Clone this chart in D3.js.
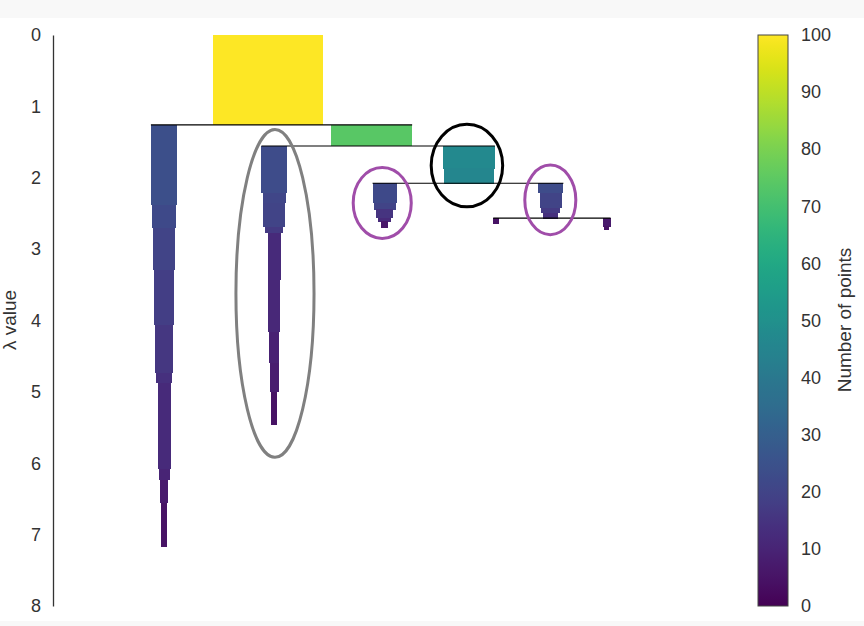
<!DOCTYPE html>
<html>
<head>
<meta charset="utf-8">
<script src="https://cdn.jsdelivr.net/npm/d3@7"></script>
<style>
  html, body { margin: 0; padding: 0; background: #ffffff; }
  svg { display: block; font-family: "Liberation Sans", Arial, sans-serif; }
</style>
</head>
<body>
<svg id="chart" width="864" height="626"></svg>
<script>
// ---------------- DATA ----------------
// Condensed-tree clusters: layout centre (in point units) of each cluster
const clusterIds    = ["root", "A", "G", "B", "H", "C", "D", "E", "F"];
const clusterCenter = [195, 101, 289.5, 201, 378.2, 301.5, 452.5, 402.7, 503.4];

// Segments: cluster, lambda start, lambda end, number of points
const segCluster = ["root",
  "A","A","A","A","A","A","A","A","A","A",
  "G",
  "B","B","B","B","B","B","B","B","B",
  "H","H",
  "C","C","C","C","C",
  "D","D","D","D",
  "E",
  "F","F"];
const segLambdaStart = [0,
  1.26, 2.38, 2.70, 3.29, 4.06, 4.73, 4.87, 6.08, 6.23, 6.55,
  1.26,
  1.555, 2.21, 2.35, 2.69, 2.77, 3.43, 4.16, 4.59, 5.0,
  1.555, 1.87,
  2.077, 2.35, 2.44, 2.56, 2.61,
  2.077, 2.21, 2.42, 2.49,
  2.567,
  2.567, 2.68];
const segLambdaEnd = [1.26,
  2.38, 2.70, 3.29, 4.06, 4.73, 4.87, 6.08, 6.23, 6.55, 7.16,
  1.555,
  2.21, 2.35, 2.69, 2.77, 3.43, 4.16, 4.59, 5.0, 5.46,
  1.87, 2.077,
  2.35, 2.44, 2.56, 2.61, 2.70,
  2.21, 2.42, 2.49, 2.567,
  2.64,
  2.68, 2.73];
const segPoints = [100,
  24, 22, 20, 18, 16, 14, 12, 10, 7, 5,
  74,
  23, 21, 20, 17, 12, 11, 9, 8, 5,
  47, 46,
  22, 20, 15, 12, 6,
  23, 20, 17, 14,
  5,
  7, 5];

// Splits: lambda of split, left child, right child
const splitLambda = [1.26, 1.555, 2.077, 2.567];
const splitLeft   = ["A", "B", "C", "E"];
const splitRight  = ["G", "H", "D", "F"];

// Annotation ellipses (centre x in point units, centre lambda, radii)
const ellipseCx    = [201.8, 376.3, 299.3, 452.1];
const ellipseCy    = [3.62, 1.83, 2.353, 2.31];
const ellipseRx    = [35.5, 32.5, 26.4, 23.2];
const ellipseRy    = [2.297, 0.578, 0.497, 0.487];
const ellipseColor = ["#808080", "#000000", "#a04da9", "#a04da9"];

const yTicks = [0, 1, 2, 3, 4, 5, 6, 7, 8];
const cbarTicks = [0, 10, 20, 30, 40, 50, 60, 70, 80, 90, 100];

// ---------------- SCALES ----------------
const svg = d3.select("#chart");
const W = 864, H = 626;

// light strips at top / bottom of the figure
svg.append("rect").attr("x", 0).attr("y", 0).attr("width", W).attr("height", 18).attr("fill", "#f8f8f8");
svg.append("rect").attr("x", 0).attr("y", 621).attr("width", W).attr("height", 5).attr("fill", "#f8f8f8");

const x = d3.scaleLinear().domain([0, 600]).range([53, 713]);
const y = d3.scaleLinear().domain([0, 8]).range([35, 606]);
const color = d3.scaleSequential(d3.interpolateViridis).domain([0, 100]);
const pxPerPoint = x(1) - x(0);

const centerOf = id => clusterCenter[clusterIds.indexOf(id)];
const firstWidth = id => segPoints[segCluster.indexOf(id)];

// ---------------- BARS ----------------
const segIdx = d3.range(segCluster.length);
svg.append("g")
  .attr("shape-rendering", "crispEdges")
  .selectAll("rect")
  .data(segIdx)
  .join("rect")
  .attr("x", i => x(centerOf(segCluster[i])) - segPoints[i] * pxPerPoint / 2)
  .attr("width", i => segPoints[i] * pxPerPoint)
  .attr("y", i => y(segLambdaStart[i]))
  .attr("height", i => y(segLambdaEnd[i]) - y(segLambdaStart[i]) + 0.5)
  .attr("fill", i => color(segPoints[i]));

// ---------------- SPLIT LINES ----------------
svg.append("g").selectAll("line")
  .data(d3.range(splitLambda.length))
  .join("line")
  .attr("x1", i => x(centerOf(splitLeft[i])) - firstWidth(splitLeft[i]) * pxPerPoint / 2)
  .attr("x2", i => x(centerOf(splitRight[i])) + firstWidth(splitRight[i]) * pxPerPoint / 2)
  .attr("y1", i => y(splitLambda[i]))
  .attr("y2", i => y(splitLambda[i]))
  .attr("stroke", "#000")
  .attr("stroke-width", 1.2);

// ---------------- ELLIPSES ----------------
svg.append("g").selectAll("ellipse")
  .data(d3.range(ellipseCx.length))
  .join("ellipse")
  .attr("cx", i => x(ellipseCx[i]))
  .attr("cy", i => y(ellipseCy[i]))
  .attr("rx", i => x(ellipseRx[i]) - x(0))
  .attr("ry", i => y(ellipseRy[i]) - y(0))
  .attr("fill", "none")
  .attr("stroke", i => ellipseColor[i])
  .attr("stroke-width", 3);

// ---------------- Y AXIS ----------------
const yAxis = d3.axisLeft(y).tickValues(yTicks).tickSize(0).tickPadding(12).tickFormat(d3.format("d"));
const gy = svg.append("g").attr("transform", "translate(53,0)").call(yAxis);
gy.select(".domain").attr("stroke", "#333").attr("stroke-width", 1.3);
gy.selectAll("text").attr("font-size", 18).attr("fill", "#333")
  .attr("font-family", "'Liberation Sans', Arial, sans-serif");

svg.append("text")
  .attr("transform", "translate(16,320) rotate(-90)")
  .attr("text-anchor", "middle")
  .attr("font-size", 19)
  .attr("fill", "#333")
  .text("λ value");

// ---------------- COLORBAR ----------------
const cbX = 758, cbW = 30;
const cy = d3.scaleLinear().domain([0, 100]).range([606, 35]);
const defs = svg.append("defs");
const grad = defs.append("linearGradient").attr("id", "viridisGrad")
  .attr("x1", "0").attr("y1", "1").attr("x2", "0").attr("y2", "0");
d3.range(0, 1.0001, 0.02).forEach(t => {
  grad.append("stop").attr("offset", t).attr("stop-color", d3.interpolateViridis(t));
});
svg.append("rect")
  .attr("x", cbX).attr("y", cy(100))
  .attr("width", cbW).attr("height", cy(0) - cy(100))
  .attr("fill", "url(#viridisGrad)")
  .attr("stroke", "#444").attr("stroke-width", 1);

const cAxis = d3.axisRight(cy).tickValues(cbarTicks).tickSize(0).tickPadding(13).tickFormat(d3.format("d"));
const gc = svg.append("g").attr("transform", `translate(${cbX + cbW},0)`).call(cAxis);
gc.select(".domain").remove();
gc.selectAll("text").attr("font-size", 18).attr("fill", "#333")
  .attr("font-family", "'Liberation Sans', Arial, sans-serif");

svg.append("text")
  .attr("transform", "translate(851,320) rotate(-90)")
  .attr("text-anchor", "middle")
  .attr("font-size", 19)
  .attr("fill", "#333")
  .text("Number of points");
</script>
</body>
</html>
